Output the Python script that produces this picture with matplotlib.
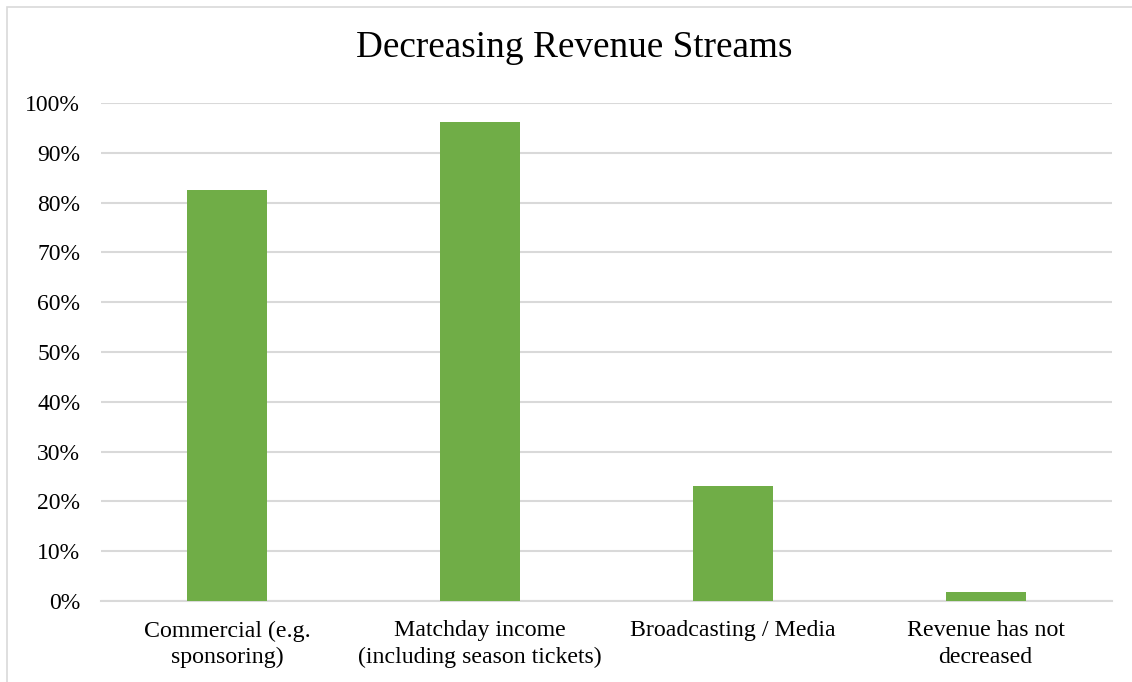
import matplotlib.pyplot as plt
import matplotlib.patches as mpatches
from matplotlib.ticker import PercentFormatter, MultipleLocator

categories = ['Commercial (e.g.\nsponsoring)', 'Matchday income\n(including season tickets)',
              'Broadcasting / Media', 'Revenue has not\ndecreased']
shares = [82.6, 96.2, 23.0, 1.9]

plt.rcParams['font.family'] = ['Liberation Serif', 'DejaVu Serif']

fig = plt.figure(figsize=(11.32, 6.82), dpi=100)
ax = fig.add_axes([101 / 1132, 0.1188, 1011 / 1132, 0.7302])

# light frame round the whole chart
fig.patches.append(mpatches.Rectangle((7 / 1132, -0.01), 1.02, 1 - 7 / 682 + 0.01,
                                      transform=fig.transFigure, fill=False,
                                      edgecolor='#D9D9D9', linewidth=1.2))

x = range(len(categories))
ax.bar(x, shares, width=0.316, color='#70AD47', zorder=3)

ax.set_ylim(0, 100)
ax.set_xlim(-0.5, len(categories) - 0.5)
ax.yaxis.set_major_locator(MultipleLocator(10))
ax.yaxis.set_major_formatter(PercentFormatter(decimals=0))
ax.grid(axis='y', color='#D9D9D9', linewidth=1.5, zorder=0)
ax.set_xticks(list(x))
ax.set_xticklabels(categories, fontsize=17.2, linespacing=1.35)
ax.tick_params(axis='y', labelsize=17, length=0, pad=15)
ax.tick_params(axis='x', length=0, pad=14)
for side in ['top', 'right', 'left']:
    ax.spines[side].set_visible(False)
ax.spines['bottom'].set_color('#D9D9D9')
ax.spines['bottom'].set_linewidth(1.5)

fig.text(574.5 / 1132, 1 - 48 / 682, 'Decreasing Revenue Streams', ha='center', va='center',
         fontsize=26.8)

fig.savefig('out.png', dpi=100)
